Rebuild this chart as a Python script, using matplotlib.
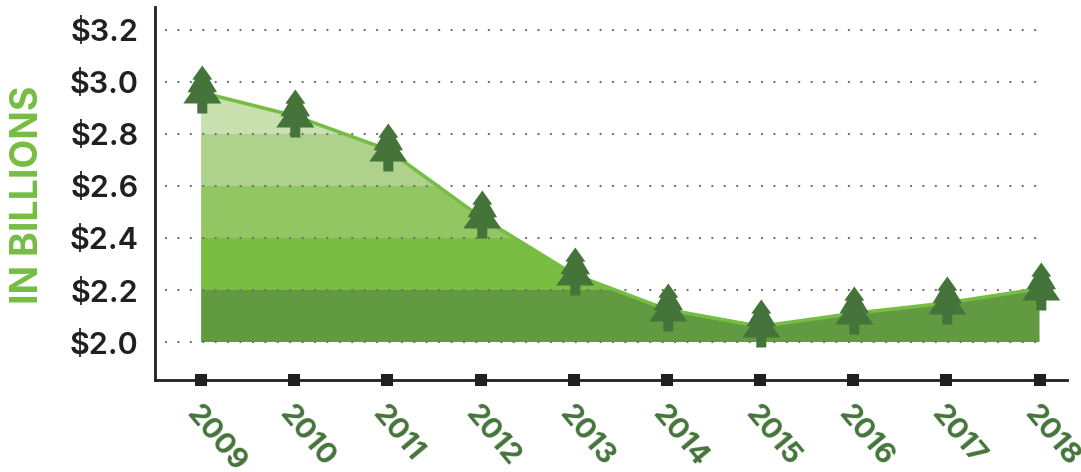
"""Aire verte par paliers, avec sapins sur chaque point."""
import numpy as np
import matplotlib
matplotlib.use("Agg")
import matplotlib.pyplot as plt
from matplotlib.path import Path
from matplotlib.patches import Polygon
from matplotlib.transforms import ScaledTranslation

plt.rcParams["font.family"] = ["Inter", "Lato", "DejaVu Sans"]
plt.rcParams["lines.scale_dashes"] = False

years = [2009, 2010, 2011, 2012, 2013, 2014, 2015, 2016, 2017, 2018]
values = [2.96, 2.87, 2.74, 2.48, 2.26, 2.125, 2.06, 2.11, 2.15, 2.205]
y_ticks = [2.0, 2.2, 2.4, 2.6, 2.8, 3.0, 3.2]
y_labels = ["$2.0", "$2.2", "$2.4", "$2.6", "$2.8", "$3.0", "$3.2"]
band_edges = [2.0, 2.2, 2.4, 2.6, 2.8, 3.2]
band_colors = ["#619a41", "#79bd43", "#92c663", "#aed28b", "#c8dfae"]

GREEN = "#76bd43"
DARK = "#44743a"
INK = "#231f20"
PX = 72 / 100  # points par pixel

W, H = 1081, 472
fig = plt.figure(figsize=(W / 100, H / 100), dpi=100)
ax = fig.add_axes([155 / W, 1 - 380 / H, (1067 - 155) / W, (380 - 7) / H])
ax.set_xlim(2008.505, 2018.295)
ax.set_ylim(1.854, 3.288)

# paliers découpés par l'aire sous la courbe
area = Polygon(list(zip(years, values)) + [(years[-1], 2.0), (years[0], 2.0)],
               transform=ax.transData, fc="none", ec="none")
ax.add_patch(area)
for lo, hi, col in zip(band_edges[:-1], band_edges[1:], band_colors):
    band = ax.fill_between([years[0], years[-1]], lo, hi, color=col, lw=0, zorder=1)
    band.set_clip_path(area)

ax.hlines(y_ticks, years[0] - 0.375, years[-1] - 0.03, colors="#6d6e71", lw=1.7,
          linestyles=[(0, (0.01, 8.93))], capstyle="round", zorder=2)
ax.plot(years, values, color=GREEN, lw=2.6, zorder=3)

# sapin : origine sur le point, coordonnées en pixels
half = [(0, 27), (10, 13), (7.3, 12.7), (14.7, 0.3), (11.3, 0), (19, -11),
        (5, -11), (5, -21)]
verts = [(x + 0.8, y) for x, y in half] + [(-x + 0.8, y) for x, y in half[::-1]]
verts.append(verts[0])
codes = [Path.MOVETO] + [Path.LINETO] * (len(verts) - 2) + [Path.CLOSEPOLY]
tree = Path(verts, codes)
ax.plot(years, values, ls="none", marker=tree, ms=2 * 27 * PX, mfc=DARK, mew=0, zorder=4,
        clip_on=False)

for side in ("top", "right"):
    ax.spines[side].set_visible(False)
for side in ("left", "bottom"):
    ax.spines[side].set_color(INK)
    ax.spines[side].set_linewidth(2)

ax.plot(years, [0] * len(years), ls="none", marker="s", ms=12 * PX, color=INK, mew=0,
        transform=ax.get_xaxis_transform(), clip_on=False, zorder=5)

ax.set_yticks(y_ticks, y_labels, fontsize=22, fontweight="semibold", color=INK)
ax.tick_params(axis="y", length=0, pad=12)
ax.set_xticks(years)
ax.set_xticklabels([str(y) for y in years], fontsize=21, fontweight="bold", color=DARK,
                   rotation=-50, rotation_mode="anchor", ha="left", va="center")
ax.tick_params(axis="x", length=0, pad=21)
shift = ScaledTranslation(-10 * PX / 72, 0, fig.dpi_scale_trans)
for lab in ax.get_xticklabels():
    lab.set_transform(lab.get_transform() + shift)

fig.text(28 / W, 1 - 195 / H, "IN BILLIONS", rotation=90, color=GREEN, fontsize=27,
         fontweight="bold", ha="center", va="center")

fig.savefig("out.png", dpi=100)
